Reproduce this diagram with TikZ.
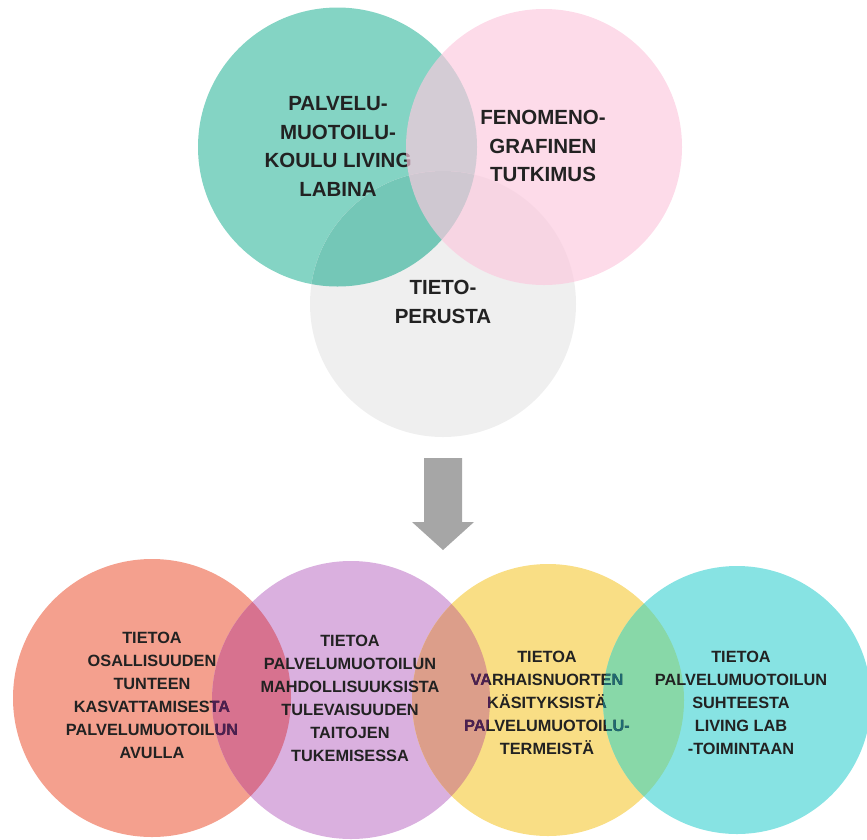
\documentclass[tikz,border=0pt]{standalone}
\usepackage{fontspec}
\setmainfont{Liberation Sans}
\definecolor{ink}{HTML}{222222}
\definecolor{cGreen}{HTML}{84D4C4}
\definecolor{cGreenGrey}{HTML}{74C7B7}
\definecolor{cPink}{RGB}{252,201,222}
\definecolor{cGrey}{HTML}{EFEFEF}
\definecolor{cArrow}{HTML}{A6A6A6}
\definecolor{cRed}{HTML}{F4A08E}
\definecolor{cPurple}{HTML}{DAB0DF}
\definecolor{cYellow}{HTML}{F9DE85}
\definecolor{cCyan}{HTML}{87E3E3}
\definecolor{cRedPurple}{HTML}{D7728F}
\definecolor{cPurpleYellow}{HTML}{DC9E8A}
\definecolor{cYellowCyan}{HTML}{88D8A8}
\definecolor{tintPink}{RGB}{180,146,160}
\definecolor{tintPurple}{HTML}{4D1F52}
\definecolor{tintCyan}{HTML}{1F6B73}

\newcommand\txtGreen{PALVELU-\\MUOTOILU-\\KOULU LIVING\\LABINA}
\newcommand\txtRed{TIETOA\\OSALLISUUDEN\\TUNTEEN\\KASVATTAMISESTA\\PALVELUMUOTOILUN\\AVULLA}
\newcommand\txtYellow{TIETOA\\VARHAISNUORTEN\\KÄSITYKSISTÄ\\PALVELUMUOTOILU-\\TERMEISTÄ}

\begin{document}
\begin{tikzpicture}[x=1pt,y=-1pt,
  lbl/.style={align=center, text=ink, inner sep=0pt,
    font=\bfseries\fontsize{16.3}{23}\selectfont},
  toplbl/.style={lbl, font=\bfseries\fontsize{20.5}{28.5}\selectfont},
  disc/.style={circle, inner sep=0pt, minimum size=#1}]
\useasboundingbox (0,0) rectangle (867,839);

% ---------- upper group ----------
\node[disc=279pt, fill=cGreen] (green) at (337.5,147) {};
\node[disc=266pt, fill=cGrey]  (grey)  at (443,304) {};
\begin{scope}
  \clip (green.center) circle[radius=139.5pt];
  \fill[cGreenGrey] (grey.center) circle[radius=133pt];
\end{scope}
\node[toplbl] (tgreen) at (338,146.5) {\txtGreen};
\node[toplbl] (tgrey) at (443,302) {TIETO-\\PERUSTA};
\node[disc=276pt, fill=cPink, fill opacity=0.67] (pink) at (544,147) {};
\node[toplbl] (tpink) at (543,146) {FENOMENO-\\GRAFINEN\\TUTKIMUS};

% ---------- arrow ----------
\coordinate (atop) at (443,458);
\coordinate (atip) at (443,550);
\fill[cArrow] ([xshift=-19pt]atop) -- ([xshift=19pt]atop)
  -- ([xshift=19pt,yshift=-64pt]atop) -- ([xshift=31pt,yshift=-64pt]atop)
  -- (atip) -- ([xshift=-31pt,yshift=-64pt]atop)
  -- ([xshift=-19pt,yshift=-64pt]atop) -- cycle;

% ---------- lower group ----------
\node[disc=278pt, fill=cRed]    (red)    at (152,698) {};
\node[disc=278pt, fill=cPurple] (purple) at (351,700) {};
\node[disc=272pt, fill=cYellow] (yellow) at (548,700) {};
\node[disc=268pt, fill=cCyan]   (cyan)   at (737,700) {};
\begin{scope}
  \clip (red.center) circle[radius=139pt];
  \fill[cRedPurple] (purple.center) circle[radius=139pt];
\end{scope}
\begin{scope}
  \clip (purple.center) circle[radius=139pt];
  \fill[cPurpleYellow] (yellow.center) circle[radius=136pt];
\end{scope}
\begin{scope}
  \clip (yellow.center) circle[radius=136pt];
  \fill[cYellowCyan] (cyan.center) circle[radius=134pt];
\end{scope}

\node[lbl] (tred) at (152,695) {\txtRed};
\node[lbl] (tpurple) at (350,698)
  {TIETOA\\PALVELUMUOTOILUN\\MAHDOLLISUUKSISTA\\TULEVAISUUDEN\\TAITOJEN\\TUKEMISESSA};
\node[lbl] (tyellow) at (547,703) {\txtYellow};
\node[lbl] (tcyan) at (741,703)
  {TIETOA\\PALVELUMUOTOILUN\\SUHTEESTA\\LIVING LAB\\-TOIMINTAAN};

% letters lying under a neighbouring translucent disc take its tint
\begin{scope}
  \clip (pink.center) circle[radius=138pt];
  \node[toplbl, text=tintPink] at (tgreen) {\txtGreen};
\end{scope}
\begin{scope}
  \clip (purple.center) circle[radius=139pt];
  \node[lbl, text=tintPurple] at (tred) {\txtRed};
  \node[lbl, text=tintPurple] at (tyellow) {\txtYellow};
\end{scope}
\begin{scope}
  \clip (cyan.center) circle[radius=134pt];
  \node[lbl, text=tintCyan] at (tyellow) {\txtYellow};
\end{scope}
\end{tikzpicture}
\end{document}
